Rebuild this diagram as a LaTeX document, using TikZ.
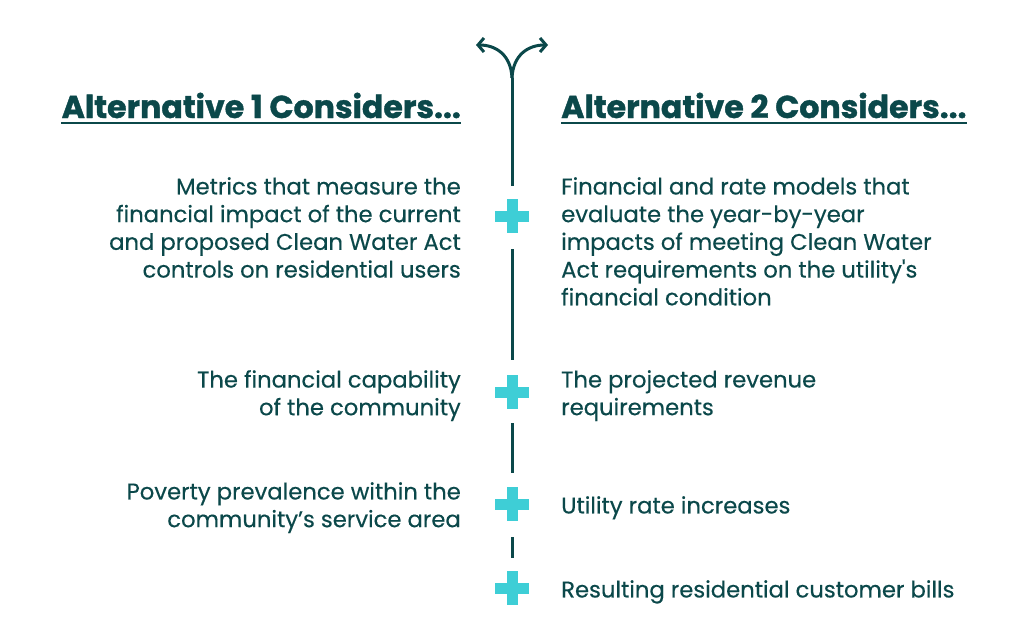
\documentclass[tikz,border=0pt]{standalone}
\usepackage{fontspec}
\setmainfont{Poppins}[AutoFakeBold=0.5]
\newfontfamily\bodyfont{Poppins}[FakeBold=0.35]
\newfontfamily\headfont{Poppins}[UprightFont=*, BoldFeatures={FakeBold=1.2}]
\usetikzlibrary{arrows.meta}
\definecolor{ink}{RGB}{11,72,74}
\definecolor{plus}{RGB}{62,206,214}

\begin{document}
\begin{tikzpicture}[x=1pt, y=-1pt, font=\bodyfont\fontsize{22.7}{27.7}\selectfont, text=ink,
  lefttext/.style={anchor=north east, align=right, inner sep=0pt},
  righttext/.style={anchor=north west, align=left, inner sep=0pt},
  heading/.style={inner sep=0pt, font=\headfont\fontsize{31.6}{34}\selectfont\bfseries},
  stem/.style={draw=ink, line width=3pt},
  plusmark/.style={minimum size=34pt, inner sep=0pt}]
  \useasboundingbox (0,0) rectangle (1024,642);
  % headings
  \node[heading, anchor=base east] (h1) at (461,118) {Alternative 1 Considers...};
  \node[heading, anchor=base west] (h2) at (561,118) {Alternative 2 Considers...};
  \draw[ink, line width=2pt] ([yshift=-5]h1.base west) -- ([yshift=-5]h1.base east);
  \draw[ink, line width=2pt] ([yshift=-5]h2.base west) -- ([yshift=-5]h2.base east);
  % plus marks
  \foreach \n/\y in {p1/216, p2/392, p3/504, p4/588} {
    \node[plusmark] (\n) at (512,\y) {};
    \fill[plus] (\n.center) +(-17,-5.5) rectangle +(17,5.5);
    \fill[plus] (\n.center) +(-5.5,-17) rectangle +(5.5,17);
  }
  % stem with the fork
  \coordinate (fork) at (512,78);
  \coordinate (tipl) at (476,45);
  \coordinate (tipr) at (548,45);
  \draw[stem] ([yshift=13]p1.north) -- (fork);
  \draw[stem, -{Straight Barb[length=6pt, width=14pt]}] (fork) .. controls (511,55) and (496,45) .. (tipl);
  \draw[stem, -{Straight Barb[length=6pt, width=14pt]}] (fork) .. controls (513,55) and (528,45) .. (tipr);
  % segments between marks
  \draw[stem] ([yshift=-16]p1.south) -- ([yshift=15]p2.north);
  \draw[stem] ([yshift=-14]p2.south) -- ([yshift=14]p3.north);
  \draw[stem] ([yshift=-16]p3.south) -- ([yshift=13]p4.north);
  % texts
  \node[lefttext] (l1) at (461,177) {Metrics that measure the\\financial impact of the current\\and proposed Clean Water Act\\controls on residential users};
  \node[righttext] (r1) at (561,177) {Financial and rate models that\\evaluate the year-by-year\\impacts of meeting Clean Water\\Act requirements on the utility's\\financial condition};
  \node[lefttext] (l2) at (461,370) {The financial capability\\of the community};
  \node[righttext] (r2) at (561,370) {The projected revenue\\requirements};
  \node[lefttext] (l3) at (461,482) {Poverty prevalence within the\\community’s service area};
  \node[righttext] (r3) at (561,496) {Utility rate increases};
  \node[righttext] (r4) at (561,580) {Resulting residential customer bills};
\end{tikzpicture}
\end{document}
